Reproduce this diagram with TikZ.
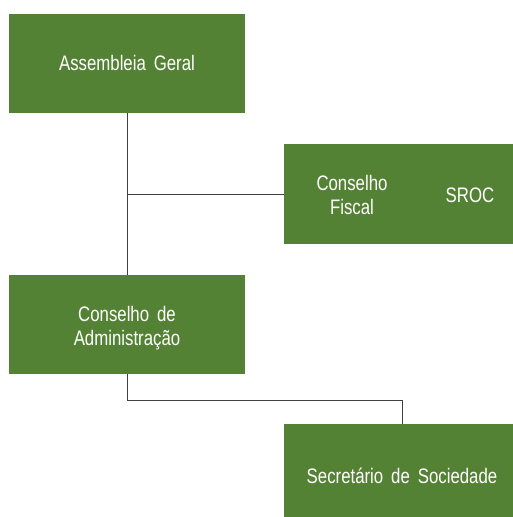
\documentclass[tikz,border=0pt]{standalone}
\usepackage{fontspec}
\newfontfamily\orgfont[FakeStretch=0.8,WordSpace=1.7]{Liberation Sans}
\definecolor{orggreen}{RGB}{84,130,53}
\definecolor{orgline}{RGB}{64,64,64}
\tikzset{
  orgbox/.style={rectangle, fill=orggreen, minimum width=236pt, minimum height=99pt, inner sep=0pt},
  orgtext/.style={text=white, align=center, font=\orgfont\fontsize{21}{24.5}\selectfont},
  orglink/.style={draw=orgline, line width=1pt}
}
\begin{document}
\begin{tikzpicture}[x=1pt,y=-1pt]
            \useasboundingbox (0,0) rectangle (512,517);
            \node [orgbox] (ag) at (127,63) {};
            \node [orgbox, minimum height=100pt] (fiscal) at (402,194) {};
            \node [orgbox] (ca) at (127,324.5) {};
            \node [orgbox, minimum height=100pt] (sec) at (402,474) {};
            \node [orgtext] (agtext) at (ag) {Assembleia Geral};
            \node [orgtext] (cftext) at (352,195) {Conselho\\Fiscal};
            \node [orgtext] (sroc) at (470,195) {SROC};
            \node [orgtext] (catext) at (127,328) {Conselho de\\Administração};
            \node [orgtext] (sectext) at (402,476) {Secretário de Sociedade};
            \draw [orglink] (ag.south)--(ca.north);
            \draw [orglink] (fiscal.west)--(fiscal.west -| ag.south);
            \draw [orglink] (ca.south)-- ++(0,26) -| (sec.north);
        \end{tikzpicture}
\end{document}
